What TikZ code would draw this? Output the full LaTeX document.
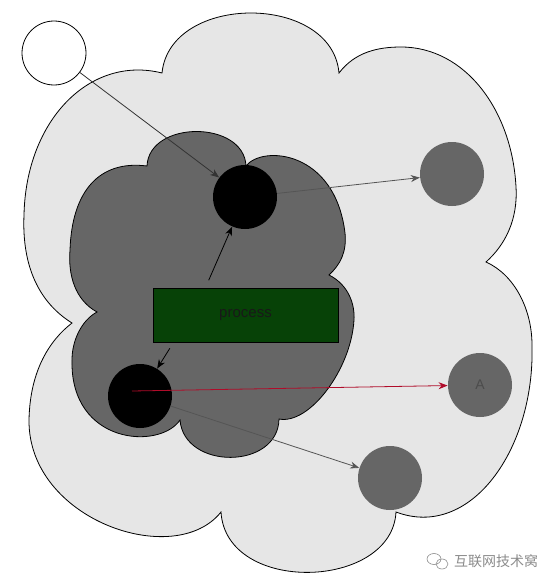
\documentclass[tikz,border=0pt]{standalone}
\usepackage{fontspec}
\setmainfont{Liberation Sans}
\newfontfamily\cjkfont{Noto Sans CJK SC}
\definecolor{cloudLight}{RGB}{230,230,230}
\definecolor{cloudDark}{RGB}{102,102,102}
\definecolor{procGreen}{RGB}{7,66,7}
\definecolor{arrowRed}{RGB}{176,12,42}
\definecolor{edgeGray}{RGB}{85,85,85}
\definecolor{wmGray}{RGB}{140,140,140}
\usetikzlibrary{arrows.meta,calc}

\begin{document}
\begin{tikzpicture}[x=1pt, y=-1pt, line width=0.8pt,
  blob/.style={circle, minimum size=64pt, inner sep=0pt},
  flow/.style={-{Stealth[length=9pt, width=7pt]}}]
  \useasboundingbox[fill=white] (0,0) rectangle (552,586);
  % outer cloud
  \draw[fill=cloudLight] (162,73)
    .. controls (170,-7) and (332,-7) .. (339,73)
    .. controls (355,52) and (378,47) .. (401,47)
    .. controls (465,47) and (512,110) .. (516,187)
    .. controls (518,220) and (505,245) .. (486,262)
    .. controls (515,275) and (532,310) .. (532,345)
    .. controls (535,450) and (470,540) .. (396,512)
    .. controls (392,590) and (226,595) .. (221,512)
    .. controls (175,570) and (28,520) .. (29,420)
    .. controls (30,370) and (50,340) .. (72,323)
    .. controls (35,300) and (22,260) .. (24,215)
    .. controls (26,120) and (90,55) .. (162,73) -- cycle;
  % inner cloud
  \draw[fill=cloudDark] (147,166)
    .. controls (149,120) and (244,120) .. (246,166)
    .. controls (262,145) and (335,150) .. (345,233)
    .. controls (347,252) and (340,265) .. (329,275)
    .. controls (349,285) and (355,305) .. (354,320)
    .. controls (351,370) and (309,425) .. (279,419)
    .. controls (278,470) and (184,470) .. (180,420)
    .. controls (160,450) and (70,445) .. (72,360)
    .. controls (72,340) and (82,320) .. (97,312)
    .. controls (75,300) and (68,275) .. (70,250)
    .. controls (72,190) and (100,160) .. (147,166) -- cycle;
  \node[blob, draw, fill=white] (src) at (54,53) {};
  \node[blob, fill=black] (top) at (245,197) {};
  \node[blob, fill=black] (bot) at (140,396) {};
  \node[blob, fill=cloudDark] (g1) at (452,174) {};
  \node[blob, fill=cloudDark, text=black!70, font=\fontsize{14}{16}\selectfont] (A) at (480,385) {A};
  \node[blob, fill=cloudDark] (g3) at (390,478) {};
  \node[draw, fill=procGreen, minimum width=185pt, minimum height=54pt, inner sep=0pt,
    text=black!90, font=\fontsize{15}{18}\selectfont] (proc) at (245.5,315) {process};
  \coordinate (redstart) at (132,391);
  % connectors
  \draw[flow, black!80] (src) -- (top);
  \draw[flow, edgeGray] (top) -- (g1);
  \draw[flow, shorten <=8pt] ([xshift=-40pt]proc.north) -- (top);
  \draw[flow, shorten <=7pt] ([xshift=-72pt]proc.south) -- (bot);
  \draw[flow, arrowRed] (redstart) -- (A);
  \draw[flow, edgeGray] (bot) -- (g3);
  % watermark
  \draw[wmGray, line width=0.6pt] (434,559) ellipse (7 and 5.5);
  \draw[wmGray, line width=0.6pt] (442,564) ellipse (6 and 5);
  \node[text=wmGray, font=\cjkfont\fontsize{14}{16}\selectfont] (wm) at (496,561) {互联网技术窝};
\end{tikzpicture}
\end{document}
